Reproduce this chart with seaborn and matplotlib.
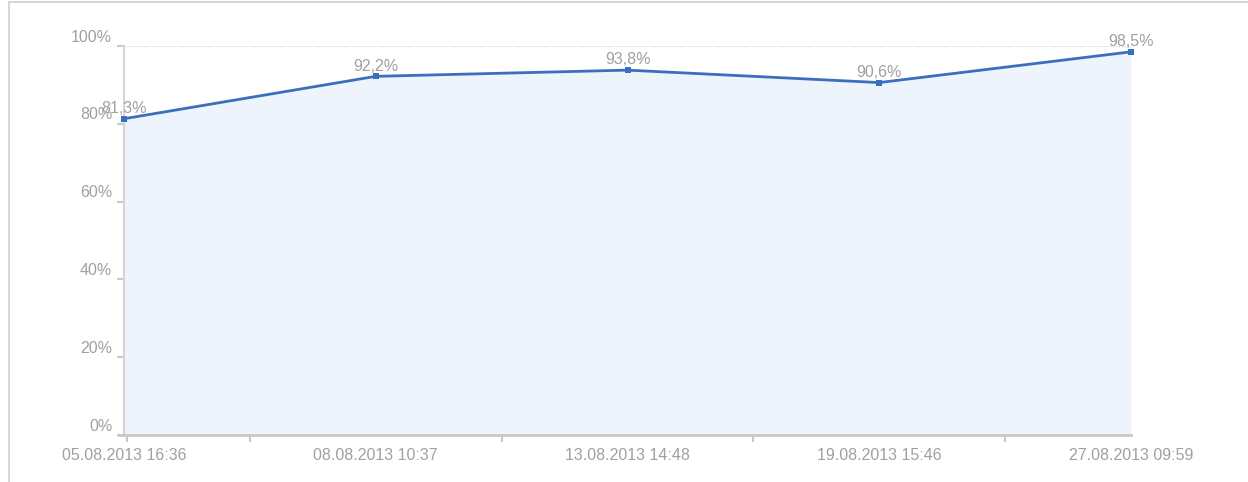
import pandas as pd
import matplotlib.pyplot as plt
import matplotlib.patches as mpatches
import matplotlib.transforms as mtransforms
import seaborn as sns

# data
dates = ['05.08.2013 16:36', '08.08.2013 10:37', '13.08.2013 14:48',
         '19.08.2013 15:46', '27.08.2013 09:59']
values = [81.3, 92.2, 93.8, 90.6, 98.5]
point_labels = ['81,3%', '92,2%', '93,8%', '90,6%', '98,5%']
y_ticks = [0, 20, 40, 60, 80, 100]

df = pd.DataFrame({'pos': range(len(dates)), 'value': values})

sns.set_style('white')
plt.rcParams['font.family'] = ['Liberation Sans', 'DejaVu Sans']

line_col = '#3b6fbe'
fill_col = '#eef4fc'
text_col = '#a0a0a0'
axis_col = '#c8c8c8'
fs = 11.5

fig = plt.figure(figsize=(12.48, 4.82), dpi=100)
ax = fig.add_axes([124 / 1248, (482 - 435) / 482, (1131 - 124) / 1248, (435 - 46) / 482])

ax.fill_between(df['pos'], df['value'], 0, color=fill_col, lw=0, zorder=1)
sns.lineplot(data=df, x='pos', y='value', ax=ax, color=line_col, lw=2,
             marker='s', markersize=4, markeredgewidth=0, zorder=3, clip_on=False)

for x, v, lab in zip(df['pos'], values, point_labels):
    ax.annotate(lab, (x, v), xytext=(0, 2), textcoords='offset points',
                ha='center', va='bottom', fontsize=fs, color=text_col,
                annotation_clip=False, zorder=4)

ax.set_xlim(0, len(dates) - 1)
ax.set_ylim(0, 100)
ax.set_xlabel('')
ax.set_ylabel('')

ax.set_yticks(y_ticks)
ax.set_yticklabels([f'{t}%' for t in y_ticks], fontsize=fs, color=text_col)
ax.set_xticks(list(df['pos']))
ax.set_xticklabels(dates, fontsize=fs, color=text_col)
ax.set_xticks([0.01, 0.5, 1.5, 2.5, 3.5], minor=True)

ax.tick_params(axis='x', which='major', bottom=False, length=0, pad=9)
ax.tick_params(axis='x', which='minor', bottom=True, length=5, width=1.5,
               color=axis_col, direction='out')
ax.tick_params(axis='y', left=True, length=5, width=1.5, color=axis_col,
               direction='out', pad=3.5)

# y labels sit a little above their tick
shift = mtransforms.ScaledTranslation(0, 1 / 72, fig.dpi_scale_trans)
for lab in ax.get_yticklabels():
    lab.set_verticalalignment('bottom')
    lab.set_transform(lab.get_transform() + shift)

# dotted line at the top only
ax.axhline(100, color='#cccccc', lw=0.8, ls=(0, (1, 1.5)), zorder=0)

for s in ['top', 'right']:
    ax.spines[s].set_visible(False)
ax.spines['left'].set_color('#d5d5d5')
ax.spines['left'].set_linewidth(1.5)
ax.spines['bottom'].set_color(axis_col)
ax.spines['bottom'].set_linewidth(2)
ax.spines['bottom'].set_bounds(-0.02, 4)

# outer frame of the widget
fig.patches.append(mpatches.Rectangle((9 / 1248, -0.01), 1.0, 1.0 - 2 / 482 + 0.01,
                                      transform=fig.transFigure, fill=False,
                                      edgecolor='#d0d0d0', lw=1.2))

fig.savefig('out.png', dpi=100)
